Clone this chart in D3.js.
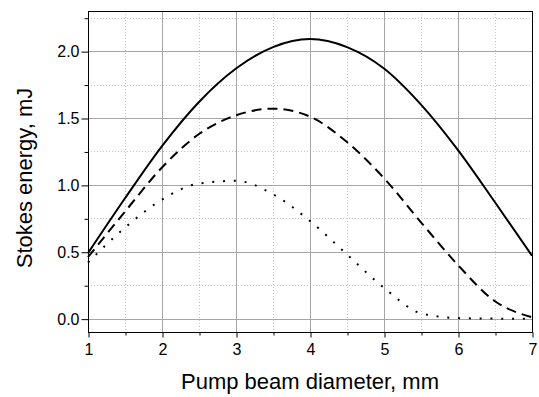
<!DOCTYPE html>
<html>
<head>
<meta charset="utf-8">
<script src="https://cdn.jsdelivr.net/npm/d3@7"></script>
<style>
  body { margin: 0; background: #fff; }
  svg { display: block; font-family: "Liberation Sans", Arial, sans-serif; }
  .tick text { font-size: 16px; fill: #000; }
  .axis-label { font-size: 22px; fill: #000; }
</style>
</head>
<body>
<svg width="539" height="397"></svg>
<script>
// pump beam diameter, mm
const diameters = [1, 1.5, 2, 2.5, 3, 3.5, 4, 4.5, 5, 5.5, 6, 6.5, 7];
// Stokes energy, mJ (three curves)
const solidSeries  = [0.49, 0.90, 1.29, 1.62, 1.87, 2.03, 2.09, 2.03, 1.87, 1.60, 1.26, 0.87, 0.47];
const dashedSeries = [0.46, 0.80, 1.13, 1.38, 1.52, 1.57, 1.51, 1.32, 1.05, 0.72, 0.40, 0.13, 0.01];
const dottedSeries = [0.42, 0.68, 0.89, 1.01, 1.03, 0.93, 0.73, 0.48, 0.23, 0.04, 0.004, 0, 0];

const xTicks = [1, 2, 3, 4, 5, 6, 7];
const xMinorTicks = [1.5, 2.5, 3.5, 4.5, 5.5, 6.5];
const yTicks = [0, 0.5, 1.0, 1.5, 2.0];
const yMinorTicks = [0.25, 0.75, 1.25, 1.75, 2.25];

const svg = d3.select('svg');
const width = +svg.attr('width');
const height = +svg.attr('height');

const margin = { top: 11, right: 7, bottom: 65, left: 88 };
const innerWidth = width - margin.left - margin.right;
const innerHeight = height - margin.top - margin.bottom;

const xScale = d3.scaleLinear().domain([1, 7]).range([0, innerWidth]);
const yScale = d3.scaleLinear().domain([-0.1, 2.3]).range([innerHeight, 0]);

const g = svg.append('g')
    .attr('transform', `translate(${margin.left}, ${margin.top})`);

// minor grid (dotted)
g.append('g').selectAll('line')
    .data(xMinorTicks)
    .enter().append('line')
    .attr('x1', d => xScale(d) + 0.5).attr('x2', d => xScale(d) + 0.5)
    .attr('y1', 0).attr('y2', innerHeight)
    .attr('stroke', '#c4c4c4').attr('stroke-dasharray', '1,2');

g.append('g').selectAll('line')
    .data(yMinorTicks)
    .enter().append('line')
    .attr('x1', 0).attr('x2', innerWidth)
    .attr('y1', d => Math.round(yScale(d)) + 0.5).attr('y2', d => Math.round(yScale(d)) + 0.5)
    .attr('stroke', '#c4c4c4').attr('stroke-dasharray', '1,2');

// major grid
g.append('g').selectAll('line')
    .data(xTicks.slice(1, -1))
    .enter().append('line')
    .attr('x1', d => xScale(d) + 0.5).attr('x2', d => xScale(d) + 0.5)
    .attr('y1', 0).attr('y2', innerHeight)
    .attr('stroke', '#a6a6a6');

g.append('g').selectAll('line')
    .data(yTicks)
    .enter().append('line')
    .attr('x1', 0).attr('x2', innerWidth)
    .attr('y1', d => Math.round(yScale(d)) + 0.5).attr('y2', d => Math.round(yScale(d)) + 0.5)
    .attr('stroke', '#a6a6a6');

// curves
const makeLine = (series) => d3.line()
    .x((d, i) => xScale(diameters[i]))
    .y(d => yScale(d))
    .curve(d3.curveMonotoneX)(series);

g.append('path')
    .attr('d', makeLine(solidSeries))
    .attr('fill', 'none').attr('stroke', '#000').attr('stroke-width', 2);

g.append('path')
    .attr('d', makeLine(dashedSeries))
    .attr('fill', 'none').attr('stroke', '#000').attr('stroke-width', 2)
    .attr('stroke-dasharray', '10,6');

g.append('path')
    .attr('d', makeLine(dottedSeries))
    .attr('fill', 'none').attr('stroke', '#000').attr('stroke-width', 2)
    .attr('stroke-dasharray', '2,8.8');

// frame
g.append('rect')
    .attr('x', 0.5).attr('y', 0.5)
    .attr('width', innerWidth).attr('height', innerHeight)
    .attr('fill', 'none').attr('stroke', '#000');

// axes
const xAxisG = g.append('g')
    .attr('transform', `translate(0.5, ${innerHeight + 0.5})`)
    .call(d3.axisBottom(xScale).tickValues(xTicks).tickFormat(d3.format('d'))
        .tickSize(5).tickSizeOuter(0).tickPadding(6));
xAxisG.select('.domain').remove();

const xMinorG = g.append('g')
    .attr('transform', `translate(0.5, ${innerHeight + 0.5})`)
    .call(d3.axisBottom(xScale).tickValues(xMinorTicks).tickSize(3).tickSizeOuter(0));
xMinorG.select('.domain').remove();
xMinorG.selectAll('text').remove();

const yAxisG = g.append('g')
    .attr('transform', 'translate(0.5, 0.5)')
    .call(d3.axisLeft(yScale).tickValues(yTicks).tickFormat(d3.format('.1f'))
        .tickSize(7).tickSizeOuter(0).tickPadding(2));
yAxisG.select('.domain').remove();

const yMinorG = g.append('g')
    .attr('transform', 'translate(0.5, 0.5)')
    .call(d3.axisLeft(yScale).tickValues(yMinorTicks).tickSize(4).tickSizeOuter(0));
yMinorG.select('.domain').remove();
yMinorG.selectAll('text').remove();

svg.selectAll('.tick line').attr('stroke', '#000');

// axis titles
svg.append('text')
    .attr('class', 'axis-label')
    .attr('x', margin.left + innerWidth / 2)
    .attr('y', 389)
    .attr('text-anchor', 'middle')
    .text('Pump beam diameter, mm');

svg.append('text')
    .attr('class', 'axis-label')
    .attr('transform', `translate(32, 178) rotate(-90)`)
    .attr('text-anchor', 'middle')
    .text('Stokes energy, mJ');
</script>
</body>
</html>
